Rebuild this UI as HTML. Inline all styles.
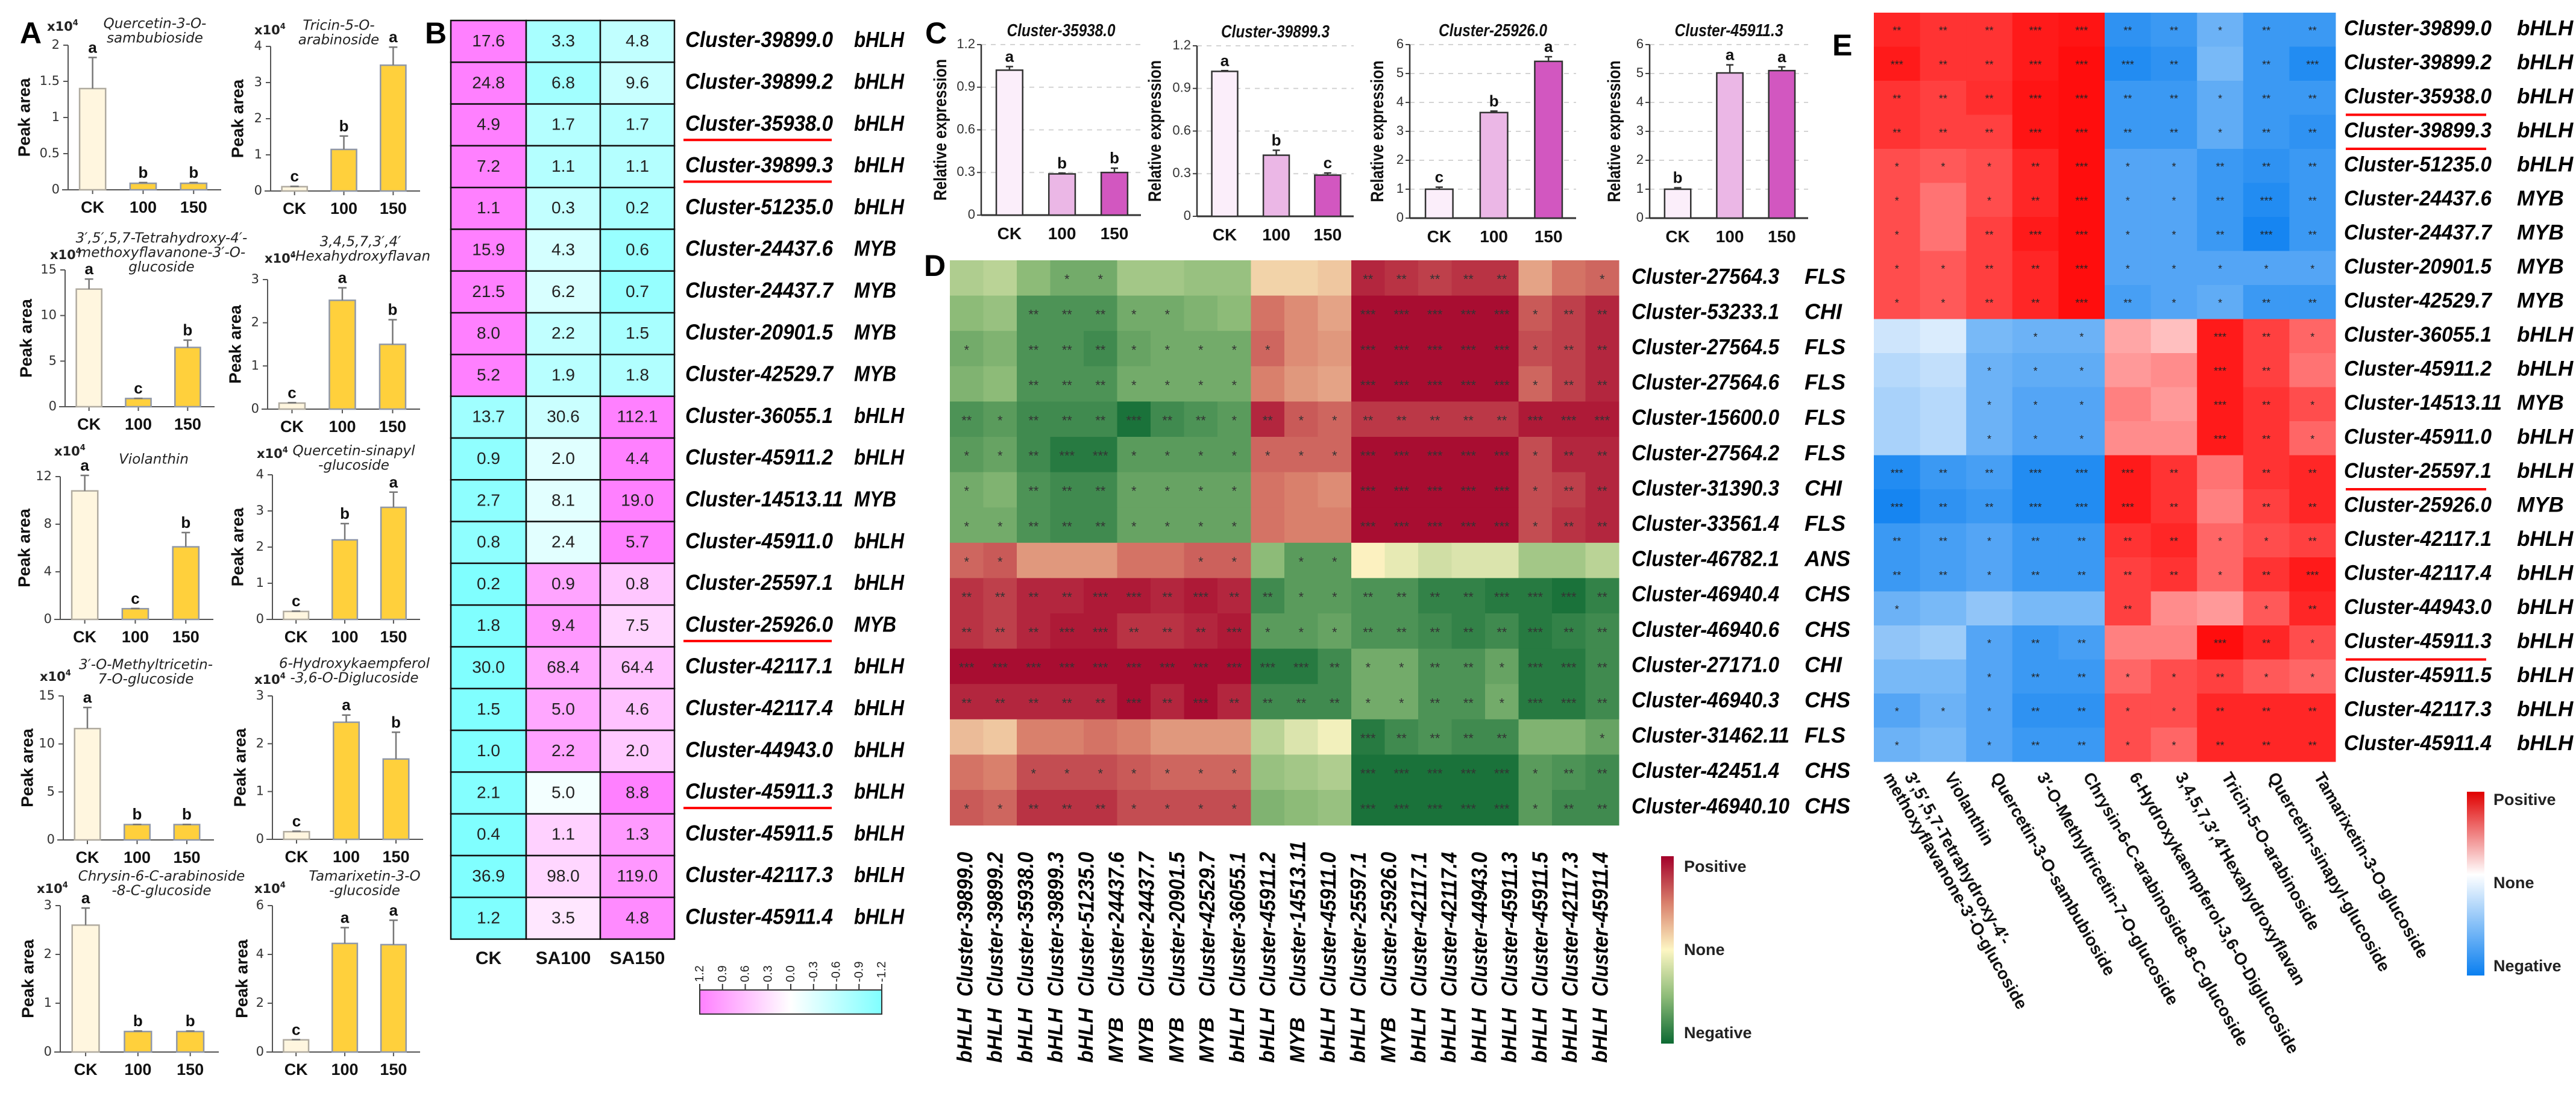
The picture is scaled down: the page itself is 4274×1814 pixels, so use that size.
<!DOCTYPE html>
<html><head><meta charset="utf-8"><title>Figure</title>
<style>
html,body{margin:0;padding:0;background:#fff;}
svg{display:block;font-family:"Liberation Sans",sans-serif;}
</style></head>
<body>
<svg id="fig" xmlns="http://www.w3.org/2000/svg" width="4274" height="1814" viewBox="0 0 4274 1814"></svg>
<script>
// ---------- Panel A data ----------
const aTitles=[["Quercetin-3-O-","sambubioside"],["Tricin-5-O-","arabinoside"],["3′,5′,5,7-Tetrahydroxy-4′-","methoxyflavanone-3′-O-","glucoside"],["3,4,5,7,3′,4′","-Hexahydroxyflavan"],["Violanthin"],["Quercetin-sinapyl","-glucoside"],["3′-O-Methyltricetin-","7-O-glucoside"],["6-Hydroxykaempferol","-3,6-O-Diglucoside"],["Chrysin-6-C-arabinoside","-8-C-glucoside"],["Tamarixetin-3-O","-glucoside"]];
const aCategories=["CK","100","150"];
const aMax=[2,4,15,3,12,4,15,3,3,6];
const aStep=[0.5,1,5,1,4,1,5,1,1,2];
const aMeans=[[1.4,0.09,0.09],[0.12,1.15,3.48],[12.9,0.9,6.5],[0.14,2.52,1.5],[10.8,0.9,6.1],[0.22,2.2,3.1],[11.6,1.6,1.6],[0.16,2.45,1.68],[2.6,0.42,0.42],[0.5,4.45,4.4]];
const aErrors=[[0.43,0.01,0.01],[0.01,0.37,0.5],[1.1,0.02,0.8],[0.01,0.29,0.57],[1.3,0.02,1.2],[0.01,0.45,0.42],[2.2,0.02,0.02],[0.01,0.15,0.56],[0.35,0.01,0.01],[0.01,0.65,1.0]];
const aLetters=[["a","b","b"],["c","b","a"],["a","c","b"],["c","a","b"],["a","c","b"],["c","b","a"],["a","b","b"],["c","a","b"],["a","b","b"],["c","a","a"]];
// ---------- Panel B data ----------
const bGenes=["Cluster-39899.0","Cluster-39899.2","Cluster-35938.0","Cluster-39899.3","Cluster-51235.0","Cluster-24437.6","Cluster-24437.7","Cluster-20901.5","Cluster-42529.7","Cluster-36055.1","Cluster-45911.2","Cluster-14513.11","Cluster-45911.0","Cluster-25597.1","Cluster-25926.0","Cluster-42117.1","Cluster-42117.4","Cluster-44943.0","Cluster-45911.3","Cluster-45911.5","Cluster-42117.3","Cluster-45911.4"];
const bFamilies=["bHLH","bHLH","bHLH","bHLH","bHLH","MYB","MYB","MYB","MYB","bHLH","bHLH","MYB","bHLH","bHLH","MYB","bHLH","bHLH","bHLH","bHLH","bHLH","bHLH","bHLH"];
const bCK=[17.6,24.8,4.9,7.2,1.1,15.9,21.5,8.0,5.2,13.7,0.9,2.7,0.8,0.2,1.8,30.0,1.5,1.0,2.1,0.4,36.9,1.2];
const bSA100=[3.3,6.8,1.7,1.1,0.3,4.3,6.2,2.2,1.9,30.6,2.0,8.1,2.4,0.9,9.4,68.4,5.0,2.2,5.0,1.1,98.0,3.5];
const bSA150=[4.8,9.6,1.7,1.1,0.2,0.6,0.7,1.5,1.8,112.1,4.4,19.0,5.7,0.8,7.5,64.4,4.6,2.0,8.8,1.3,119.0,4.8];
const bColumns=["CK","SA100","SA150"];
const bScaleTicks=["1.2","0.9","0.6","0.3","0.0","-0.3","-0.6","-0.9","-1.2"];
const bUnderlined=["Cluster-35938.0","Cluster-39899.3","Cluster-25926.0","Cluster-45911.3"];
// ---------- Panel C data ----------
const cTitles=["Cluster-35938.0","Cluster-39899.3","Cluster-25926.0","Cluster-45911.3"];
const cCategories=["CK","100","150"];
const cMax=[1.2,1.2,6,6];
const cStep=[0.3,0.3,1,1];
const cMeans=[[1.02,0.29,0.30],[1.02,0.43,0.29],[1.0,3.65,5.42],[1.0,5.02,5.1]];
const cErrors=[[0.025,0.005,0.03],[0.005,0.035,0.015],[0.07,0.05,0.16],[0.05,0.28,0.13]];
const cLetters=[["a","b","b"],["a","b","c"],["c","b","a"],["b","a","a"]];
// ---------- Panel D data ----------
const dRows=["Cluster-27564.3","Cluster-53233.1","Cluster-27564.5","Cluster-27564.6","Cluster-15600.0","Cluster-27564.2","Cluster-31390.3","Cluster-33561.4","Cluster-46782.1","Cluster-46940.4","Cluster-46940.6","Cluster-27171.0","Cluster-46940.3","Cluster-31462.11","Cluster-42451.4","Cluster-46940.10"];
const dRowFamilies=["FLS","CHI","FLS","FLS","FLS","FLS","CHI","FLS","ANS","CHS","CHS","CHI","CHS","FLS","CHS","CHS"];
const dCols=["Cluster-39899.0","Cluster-39899.2","Cluster-35938.0","Cluster-39899.3","Cluster-51235.0","Cluster-24437.6","Cluster-24437.7","Cluster-20901.5","Cluster-42529.7","Cluster-36055.1","Cluster-45911.2","Cluster-14513.11","Cluster-45911.0","Cluster-25597.1","Cluster-25926.0","Cluster-42117.1","Cluster-42117.4","Cluster-44943.0","Cluster-45911.3","Cluster-45911.5","Cluster-42117.3","Cluster-45911.4"];
const dColFamilies=["bHLH","bHLH","bHLH","bHLH","bHLH","MYB","MYB","MYB","MYB","bHLH","bHLH","MYB","bHLH","bHLH","MYB","bHLH","bHLH","bHLH","bHLH","bHLH","bHLH","bHLH"];
const dValues=[
[-0.35,-0.3,-0.5,-0.6,-0.6,-0.4,-0.4,-0.45,-0.45,0.15,0.15,0.2,0.85,0.8,0.75,0.8,0.8,0.35,0.55,0.6],
[-0.5,-0.45,-0.75,-0.75,-0.75,-0.6,-0.6,-0.55,-0.5,0.55,0.45,0.35,0.95,0.95,0.95,0.95,0.95,0.65,0.75,0.85],
[-0.6,-0.55,-0.75,-0.75,-0.8,-0.65,-0.6,-0.6,-0.6,0.6,0.45,0.4,0.95,0.95,0.95,0.95,0.95,0.7,0.75,0.85],
[-0.55,-0.5,-0.75,-0.75,-0.75,-0.6,-0.6,-0.6,-0.6,0.5,0.4,0.35,0.95,0.95,0.95,0.95,0.95,0.6,0.75,0.85],
[-0.75,-0.7,-0.8,-0.8,-0.8,-0.95,-0.8,-0.75,-0.7,0.85,0.65,0.6,0.78,0.78,0.78,0.78,0.78,0.9,0.9,0.9],
[-0.7,-0.65,-0.8,-0.9,-0.9,-0.7,-0.7,-0.7,-0.7,0.6,0.6,0.6,0.95,0.95,0.95,0.95,0.95,0.7,0.85,0.85],
[-0.6,-0.55,-0.75,-0.8,-0.8,-0.65,-0.65,-0.65,-0.65,0.55,0.5,0.45,0.95,0.95,0.95,0.95,0.95,0.7,0.75,0.85],
[-0.6,-0.6,-0.75,-0.8,-0.8,-0.65,-0.65,-0.65,-0.65,0.55,0.5,0.5,0.95,0.95,0.95,0.95,0.95,0.7,0.8,0.85],
[0.6,0.65,0.4,0.4,0.4,0.55,0.55,0.62,0.62,-0.5,-0.7,-0.7,0.02,-0.1,-0.2,-0.15,-0.15,-0.4,-0.4,-0.3],
[0.8,0.75,0.85,0.85,0.9,0.9,0.85,0.9,0.85,-0.8,-0.7,-0.7,-0.75,-0.75,-0.85,-0.85,-0.9,-0.9,-0.95,-0.85],
[0.8,0.75,0.85,0.9,0.9,0.8,0.8,0.85,0.9,-0.7,-0.7,-0.65,-0.75,-0.75,-0.8,-0.85,-0.8,-0.9,-0.85,-0.8],
[0.95,0.95,0.95,0.95,0.95,0.95,0.95,0.95,0.95,-0.9,-0.9,-0.8,-0.6,-0.6,-0.75,-0.75,-0.65,-0.9,-0.9,-0.8],
[0.85,0.85,0.85,0.85,0.85,0.95,0.85,0.95,0.85,-0.8,-0.8,-0.8,-0.6,-0.6,-0.75,-0.75,-0.6,-0.9,-0.9,-0.8],
[0.25,0.2,0.5,0.5,0.55,0.5,0.4,0.4,0.4,-0.3,-0.15,-0.05,-0.9,-0.8,-0.75,-0.8,-0.8,-0.55,-0.55,-0.65],
[0.55,0.5,0.7,0.7,0.7,0.65,0.6,0.6,0.6,-0.45,-0.4,-0.35,-0.95,-0.95,-0.95,-0.95,-0.95,-0.7,-0.75,-0.8],
[0.65,0.6,0.8,0.8,0.8,0.7,0.7,0.7,0.7,-0.55,-0.5,-0.45,-0.95,-0.95,-0.95,-0.95,-0.95,-0.7,-0.8,-0.8]];
// ---------- Panel E data ----------
const eRows=bGenes.slice();
const eFamilies=bFamilies.slice();
const eCols=[["3′,5′,5,7-Tetrahydroxy-4′-","methoxyflavanone-3′-O-glucoside"],["Violanthin"],["Quercetin-3-O-sambubioside"],["3′-O-Methyltricetin-7-O-glucoside"],["Chrysin-6-C-arabinoside-8-C-glucoside"],["6-Hydroxykaempferol-3,6-O-Diglucoside"],["3,4,5,7,3′,4′Hexahydroxyflavan"],["Tricin-5-O-arabinoside"],["Quercetin-sinapyl-glucoside"],["Tamarixetin-3-O-glucoside"]];
const eValues=[
[0.85,0.8,0.8,0.9,0.92,-0.85,-0.8,-0.6,-0.8,-0.8],
[0.9,0.8,0.8,0.9,0.95,-0.9,-0.85,-0.55,-0.8,-0.9],
[0.8,0.75,0.82,0.92,0.95,-0.8,-0.8,-0.65,-0.8,-0.8],
[0.8,0.75,0.75,0.92,0.95,-0.8,-0.8,-0.65,-0.8,-0.85],
[0.7,0.65,0.7,0.85,0.95,-0.7,-0.7,-0.8,-0.85,-0.8],
[0.7,0.55,0.7,0.85,0.95,-0.7,-0.7,-0.8,-0.9,-0.8],
[0.7,0.55,0.75,0.9,0.95,-0.7,-0.7,-0.8,-0.95,-0.8],
[0.7,0.65,0.75,0.85,0.95,-0.7,-0.7,-0.7,-0.7,-0.7],
[0.7,0.65,0.75,0.85,0.95,-0.75,-0.7,-0.65,-0.8,-0.8],
[-0.2,-0.15,-0.55,-0.6,-0.6,0.35,0.25,0.9,0.75,0.6],
[-0.3,-0.25,-0.6,-0.65,-0.65,0.4,0.45,0.9,0.75,0.55],
[-0.35,-0.3,-0.6,-0.7,-0.7,0.5,0.4,0.9,0.8,0.7],
[-0.35,-0.3,-0.6,-0.7,-0.7,0.45,0.45,0.9,0.8,0.6],
[-0.9,-0.8,-0.75,-0.9,-0.9,0.9,0.8,0.55,0.8,0.85],
[-0.95,-0.85,-0.8,-0.9,-0.9,0.9,0.8,0.5,0.75,0.85],
[-0.8,-0.75,-0.7,-0.8,-0.8,0.8,0.85,0.6,0.7,0.75],
[-0.8,-0.75,-0.7,-0.8,-0.8,0.75,0.8,0.6,0.8,0.9],
[-0.6,-0.55,-0.45,-0.55,-0.55,0.75,0.45,0.4,0.65,0.85],
[-0.45,-0.4,-0.7,-0.8,-0.75,0.5,0.5,0.95,0.85,0.7],
[-0.55,-0.55,-0.7,-0.8,-0.8,0.6,0.7,0.75,0.65,0.6],
[-0.7,-0.6,-0.7,-0.85,-0.85,0.7,0.7,0.85,0.85,0.85],
[-0.6,-0.55,-0.7,-0.8,-0.8,0.7,0.6,0.85,0.85,0.85]];

// ---------- helpers ----------
const NS='http://www.w3.org/2000/svg';
const svg=document.getElementById('fig');
function mk(tag,at,parent,txt){const e=document.createElementNS(NS,tag);for(const k in at)e.setAttribute(k,at[k]);if(txt!=null)e.textContent=txt;(parent||svg).appendChild(e);return e;}
function lerp(a,b,t){return a+(b-a)*t;}
function hex(c){return [parseInt(c.slice(1,3),16),parseInt(c.slice(3,5),16),parseInt(c.slice(5,7),16)];}
function ramp(stops,v){
  if(v<=stops[0][0])return stops[0][1];
  for(let i=1;i<stops.length;i++){if(v<=stops[i][0]){const t=(v-stops[i-1][0])/(stops[i][0]-stops[i-1][0]);const a=hex(stops[i-1][1]),b=hex(stops[i][1]);return 'rgb('+[0,1,2].map(k=>Math.round(lerp(a[k],b[k],t))).join(',')+')';}}
  return stops[stops.length-1][1];}
function stars(v){const a=Math.abs(v);return a>=0.9?'***':a>=0.75?'**':a>=0.6?'*':'';}
function fmt(v){return (Math.round(v*10)/10).toString();}

const panelLetters=[["A",33,72],["B",705,72],["C",1535,72],["D",1533,458],["E",3040,92]];
panelLetters.forEach(p=>{
  const t=mk('text',{x:p[1],y:p[2],'font-size':50,'font-weight':'bold',fill:'#000'},svg,p[0]);
  
  
});

// ---------- Panel A ----------
const aLayout=[[113,367,75,315,257,40,78,43,42],[449,697,77,317,562,43,422,49,396],[108,356,448,675,268,396,83,422,45],[444,697,464,679,598,402,439,428,392],[100,354,791,1028,255,763,90,748,42],[452,697,788,1028,587,749,426,752,396],[105,355,1155,1394,242,1104,66,1122,47],[452,702,1155,1393,588,1102,422,1127,400],[100,363,1503,1746,268,1455,61,1474,48],[452,697,1503,1746,605,1455,422,1474,403]];
const aBarFrac=[0.16,0.49,0.82];
aTitles.forEach((title,i)=>{
  const [L,R,T,Z,tcx,ty,xx,xy,ylx]=aLayout[i];
  const g=mk('g',{});
  
  
  const ys=v=>Z-(v/aMax[i])*(Z-T);
  title.forEach((line,k)=>{
    const t=mk('text',{x:tcx,y:ty+k*24,'font-size':23,'font-family':'DejaVu Sans, sans-serif','font-style':'italic','text-anchor':'middle','dominant-baseline':'middle',fill:'#222'},g,line);
    
    
  });
  const xt=mk('text',{x:xx,y:xy+8,'font-size':21,'font-family':'DejaVu Sans, sans-serif','font-weight':'bold',fill:'#222'},g,'x10');
  
  
  mk('tspan',{'font-size':13,dy:-9},xt,'4');
  const ya=mk('line',{x1:L,y1:T,x2:L,y2:Z,stroke:'#555','stroke-width':2},g);
  
  
  for(let v=0;v<=aMax[i]+1e-9;v+=aStep[i]){
    const y=ys(v);
    mk('line',{x1:L-8,y1:y,x2:L,y2:y,stroke:'#555','stroke-width':2},g);
    const tl=mk('text',{x:L-14,y:y,'font-size':21,'font-family':'DejaVu Sans, sans-serif','text-anchor':'end','dominant-baseline':'middle',fill:'#333'},g,fmt(v));
    
    
  }
  const yl=mk('text',{x:ylx,y:(T+Z)/2,'font-size':28,'font-weight':'bold','text-anchor':'middle','dominant-baseline':'middle',transform:`rotate(-90 ${ylx} ${(T+Z)/2})`,fill:'#111'},g,'Peak area');
  
  
  const xa=mk('line',{x1:L-10,y1:Z,x2:R,y2:Z,stroke:'#555','stroke-width':2},g);
  
  
  const bw=0.17*(R-L);
  aCategories.forEach((c,j)=>{
    const cx=L+(R-L)*aBarFrac[j];
    mk('line',{x1:cx,y1:Z,x2:cx,y2:Z+7,stroke:'#555','stroke-width':2},g);
    const v=aMeans[i][j];
    const top=ys(v);
    const b=mk('rect',{x:cx-bw/2,y:top,width:bw,height:Z-top,fill:j===0?'#fff6df':'#ffd03c',stroke:j===0?'#b0aba0':'#9098a8','stroke-width':2.5},g);
    
    
    const et=ys(v+aErrors[i][j]);
    const eb=mk('path',{d:`M${cx} ${top}V${et}M${cx-7} ${et}H${cx+7}`,stroke:'#777','stroke-width':2.5,fill:'none'},g);
    
    
    const lt=mk('text',{x:cx,y:et-8,'font-size':26,'font-weight':'bold','text-anchor':'middle',fill:'#111'},g,aLetters[i][j]);
    
    
    const xl=mk('text',{x:cx,y:Z+38,'font-size':27,'font-weight':'bold','text-anchor':'middle',fill:'#111'},g,c);
    
    
  });
});

// ---------- Panel B ----------
(function(){
  const g=mk('g',{});
  
  
  const colX=[748,873,996,1119], top=34, rh=69.3;
  bGenes.forEach((gene,i)=>{
    const vals=[bCK[i],bSA100[i],bSA150[i]];
    const m=(vals[0]+vals[1]+vals[2])/3;
    const sd=Math.sqrt(vals.reduce((s,v)=>s+(v-m)*(v-m),0)/3)||1;
    vals.forEach((v,j)=>{
      const z=Math.max(-1.2,Math.min(1.2,(v-m)/sd));
      const y=top+i*rh;
      const r=mk('rect',{x:colX[j],y:y,width:colX[j+1]-colX[j],height:rh,fill:ramp([[-1.2,'#80ffff'],[0,'#ffffff'],[1.2,'#ff80ff']],z),stroke:'#111','stroke-width':2.5},g);
      
      
      const t=mk('text',{x:(colX[j]+colX[j+1])/2,y:y+rh/2+1,'font-size':28,'text-anchor':'middle','dominant-baseline':'middle',fill:'#222'},g,v.toFixed(1));
      
      
    });
    const cy=top+(i+0.5)*rh;
    const gl=mk('text',{x:1137,y:cy,'font-size':36,'font-weight':'bold','font-style':'italic','dominant-baseline':'middle',textLength:gene.length>15?262:245,lengthAdjust:'spacingAndGlyphs',fill:'#000'},g,gene);
    
    
    const fl=mk('text',{x:1417,y:cy,'font-size':36,'font-weight':'bold','font-style':'italic','dominant-baseline':'middle',textLength:bFamilies[i]==='MYB'?70:83,lengthAdjust:'spacingAndGlyphs',fill:'#000'},g,bFamilies[i]);
    
    
    if(bUnderlined.includes(gene)){
      const u=mk('line',{x1:1134,y1:cy+25,x2:1380,y2:cy+25,stroke:'#ff0000','stroke-width':4},g);
      
      
    }
  });
  bColumns.forEach((c,j)=>{
    const t=mk('text',{x:(colX[j]+colX[j+1])/2,y:1592,'font-size':30,'font-weight':'bold','text-anchor':'middle','dominant-baseline':'middle',fill:'#111'},g,c);
    
    
  });
  const defs=mk('defs',{});
  const lg=mk('linearGradient',{id:'bgrad',x1:0,y1:0,x2:1,y2:0},defs);
  mk('stop',{offset:0,'stop-color':'#ff80ff'},lg);mk('stop',{offset:0.5,'stop-color':'#ffffff'},lg);mk('stop',{offset:1,'stop-color':'#80ffff'},lg);
  const cb=mk('rect',{x:1161,y:1643,width:302,height:40,fill:'url(#bgrad)',stroke:'#333','stroke-width':2},g);
  
  
  bScaleTicks.forEach((lab,k)=>{
    const x=1161+k*302/8;
    mk('line',{x1:x,y1:1633,x2:x,y2:1643,stroke:'#333','stroke-width':2},g);
    const t=mk('text',{x:x,y:1630,'font-size':20,'dominant-baseline':'central',transform:`rotate(-90 ${x} 1630)`,fill:'#222'},g,lab);
    
    
  });
})();

// ---------- Panel C ----------
const cLayout=[[1628,1893,74,357,1562],[1986,2246,76,359,1918],[2339,2615,74,362,2287],[2737,3000,74,362,2680]];
const cFrac=[0.177,0.506,0.834];
const cColors=['#fbeefa','#ebb7e6','#d257c0'];
cTitles.forEach((title,i)=>{
  const [L,R,T,Z,ylx]=cLayout[i];
  const g=mk('g',{});
  
  
  const ys=v=>Z-(v/cMax[i])*(Z-T);
  for(let v=0;v<=cMax[i]+1e-9;v+=cStep[i]){
    const y=ys(v);
    if(v>0){const gl=mk('line',{x1:L,y1:y,x2:R,y2:y,stroke:'#d4d4d4','stroke-width':2,'stroke-dasharray':'8 8'},g);
      
      }
    mk('line',{x1:L-7,y1:y,x2:L,y2:y,stroke:'#444','stroke-width':2},g);
    const tl=mk('text',{x:L-10,y:y,'font-size':22,'text-anchor':'end','dominant-baseline':'middle',fill:'#333'},g,fmt(v));
    
    
  }
  const ya=mk('line',{x1:L,y1:T,x2:L,y2:Z,stroke:'#333','stroke-width':2.5},g);
  
  
  const xa=mk('line',{x1:L,y1:Z,x2:R,y2:Z,stroke:'#333','stroke-width':3},g);
  
  
  const tt=mk('text',{x:(L+R)/2,y:T-14,'font-size':29,'font-weight':'bold','font-style':'italic','text-anchor':'middle',textLength:180,lengthAdjust:'spacingAndGlyphs',fill:'#111'},g,title);
  
  
  const yl=mk('text',{x:ylx,y:(T+Z)/2,'font-size':30,'font-weight':'bold','text-anchor':'middle','dominant-baseline':'middle',textLength:235,lengthAdjust:'spacingAndGlyphs',transform:`rotate(-90 ${ylx} ${(T+Z)/2})`,fill:'#111'},g,'Relative expression');
  
  
  const bw=0.165*(R-L);
  cCategories.forEach((c,j)=>{
    const cx=L+(R-L)*cFrac[j];
    const v=cMeans[i][j], top=ys(v);
    const b=mk('rect',{x:cx-bw/2,y:top,width:bw,height:Z-top,fill:cColors[j],stroke:'#333','stroke-width':2.5},g);
    
    
    const et=ys(v+cErrors[i][j]);
    const eb=mk('path',{d:`M${cx} ${top}V${et}M${cx-6} ${et}H${cx+6}`,stroke:'#333','stroke-width':2.5,fill:'none'},g);
    
    
    const lt=mk('text',{x:cx,y:et-8,'font-size':26,'font-weight':'bold','text-anchor':'middle',fill:'#111'},g,cLetters[i][j]);
    
    
    const xl=mk('text',{x:cx,y:Z+40,'font-size':28,'font-weight':'bold','text-anchor':'middle',fill:'#111'},g,c);
    
    
  });
});

// ---------- Panel D ----------
(function(){
  const g=mk('g',{});
  
  
  const X0=1576,Y0=432,cw=55.5,rh=58.6;
  const dStops=[[-1,'#0d6a33'],[-0.5,'#8dbb78'],[0,'#fdf6c3'],[0.5,'#d9806c'],[1,'#a3002a']];
  dValues.forEach((row,i)=>{
    row.forEach((v,j)=>{
      const r=mk('rect',{x:X0+j*cw,y:Y0+i*rh,width:cw+0.5,height:rh+0.5,fill:ramp(dStops,v)},g);
      
      
      const s=stars(v);
      if(s){const t=mk('text',{x:X0+(j+0.5)*cw,y:Y0+(i+0.5)*rh+4,'font-size':22,'text-anchor':'middle','dominant-baseline':'middle',fill:'#333'},g,s);
        
        }
    });
    const cy=Y0+(i+0.5)*rh;
    const rl=mk('text',{x:2707,y:cy,'font-size':36,'font-weight':'bold','font-style':'italic','dominant-baseline':'middle',textLength:dRows[i].length>15?262:245,lengthAdjust:'spacingAndGlyphs',fill:'#000'},g,dRows[i]);
    
    
    const fl=mk('text',{x:2994,y:cy,'font-size':36,'font-weight':'bold','font-style':'italic','dominant-baseline':'middle',fill:'#000'},g,dRowFamilies[i]);
    
    
  });
  dCols.forEach((c,k)=>{
    const x=1601+k*50.2;
    const t=mk('text',{x:x,y:1654,'font-size':36,'font-weight':'bold','font-style':'italic','dominant-baseline':'central',textLength:c.length>15?258:240,lengthAdjust:'spacingAndGlyphs',transform:`rotate(-90 ${x} 1654)`,fill:'#000'},g,c);
    
    
    const f=mk('text',{x:x,y:1764,'font-size':34,'font-weight':'bold','font-style':'italic','dominant-baseline':'central',transform:`rotate(-90 ${x} 1764)`,fill:'#000'},g,dColFamilies[k]);
    
    
  });
  const defs=mk('defs',{});
  const lg=mk('linearGradient',{id:'dgrad',x1:0,y1:0,x2:0,y2:1},defs);
  mk('stop',{offset:0,'stop-color':'#a3002a'},lg);mk('stop',{offset:0.25,'stop-color':'#d9806c'},lg);mk('stop',{offset:0.5,'stop-color':'#fdf6c3'},lg);mk('stop',{offset:0.75,'stop-color':'#8dbb78'},lg);mk('stop',{offset:1,'stop-color':'#0d6a33'},lg);
  const lb=mk('rect',{x:2756,y:1421,width:21,height:311,fill:'url(#dgrad)'},g);
  
  
  [["Positive",1440],["None",1578],["Negative",1716]].forEach(p=>{
    const t=mk('text',{x:2794,y:p[1],'font-size':27,'font-weight':'bold','dominant-baseline':'middle',fill:'#222'},g,p[0]);
    
    
  });
})();

// ---------- Panel E ----------
(function(){
  const g=mk('g',{});
  
  
  const X0=3109,Y0=21,cw=76.6,rh=56.5;
  const eStops=[[-1,'#0a7ff0'],[0,'#ffffff'],[1,'#ff0000']];
  eValues.forEach((row,i)=>{
    row.forEach((v,j)=>{
      const r=mk('rect',{x:X0+j*cw,y:Y0+i*rh,width:cw+0.5,height:rh+0.5,fill:ramp(eStops,v)},g);
      
      
      const s=stars(v);
      if(s){const t=mk('text',{x:X0+(j+0.5)*cw,y:Y0+(i+0.5)*rh+3,'font-size':18,'text-anchor':'middle','dominant-baseline':'middle',fill:'#222'},g,s);
        
        }
    });
    const cy=Y0+(i+0.5)*rh;
    const rl=mk('text',{x:3889,y:cy,'font-size':35,'font-weight':'bold','font-style':'italic','dominant-baseline':'middle',textLength:eRows[i].length>15?262:245,lengthAdjust:'spacingAndGlyphs',fill:'#000'},g,eRows[i]);
    
    
    const fl=mk('text',{x:4176,y:cy,'font-size':35,'font-weight':'bold','font-style':'italic','dominant-baseline':'middle',fill:'#000'},g,eFamilies[i]);
    
    
    if(bUnderlined.includes(eRows[i])||eRows[i]==='Cluster-25597.1'){
      if(eRows[i]!=='Cluster-25926.0'){
        const u=mk('line',{x1:3892,y1:Y0+(i+1)*rh,x2:4125,y2:Y0+(i+1)*rh,stroke:'#ff0000','stroke-width':4},g);
        
        
      }
    }
  });
  eCols.forEach((lines,j)=>{
    const cx=X0+(j+0.5)*cw;
    lines.forEach((line,k)=>{
      const ax=lines.length>1?(k===0?cx+20:cx-15):cx+10, ay=1284;
      const t=mk('text',{x:ax,y:ay,'font-size':28,'font-weight':'bold','dominant-baseline':'central',transform:`rotate(60 ${ax} ${ay})`,fill:'#111'},g,line);
      
      
    });
  });
  const defs=mk('defs',{});
  const lg=mk('linearGradient',{id:'egrad',x1:0,y1:0,x2:0,y2:1},defs);
  mk('stop',{offset:0,'stop-color':'#e00000'},lg);mk('stop',{offset:0.45,'stop-color':'#ffffff'},lg);mk('stop',{offset:1,'stop-color':'#0a7ff0'},lg);
  const lb=mk('rect',{x:4093,y:1314,width:29,height:305,fill:'url(#egrad)'},g);
  
  
  [["Positive",1329],["None",1467],["Negative",1605]].forEach(p=>{
    const t=mk('text',{x:4137,y:p[1],'font-size':27,'font-weight':'bold','dominant-baseline':'middle',fill:'#222'},g,p[0]);
    
    
  });
})();
</script>
</body></html>
